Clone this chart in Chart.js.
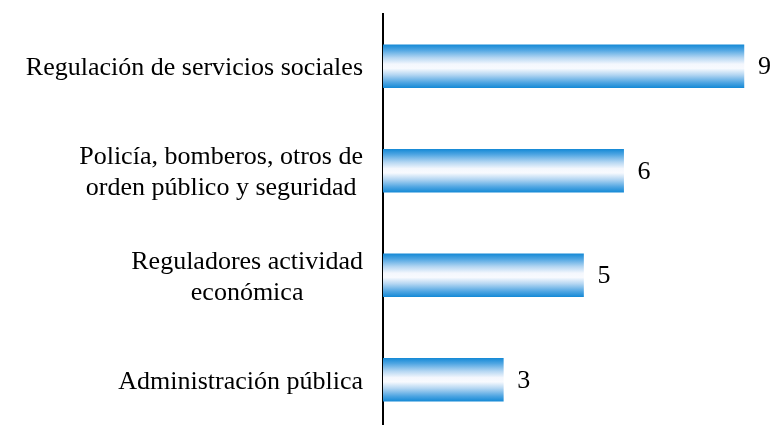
<!DOCTYPE html>
<html>
<head>
<meta charset="utf-8">
<script src="https://cdn.jsdelivr.net/npm/chart.js@4/dist/chart.umd.min.js"></script>
<style>
  html, body { margin: 0; padding: 0; background: #fff; overflow: hidden; }
  #wrap { width: 776px; height: 432px; position: relative; }
</style>
</head>
<body>
<div id="wrap"><canvas id="chart"></canvas></div>
<script>
const categories = [
  "Regulación de servicios sociales",
  ["Policía, bomberos, otros de", "orden público y seguridad"],
  ["Reguladores actividad", "económica"],
  "Administración pública"
];
const values = [9, 6, 5, 3];

const BAR_H = 43;
const FONT = "'Liberation Serif', 'Times New Roman', serif";
const FONT_SIZE = 26;
const LINE_H = 31;

// vertical blue-white-blue gradient for each bar, built from the y scale
function barGradient(context) {
  const chart = context.chart;
  const yScale = chart.scales.y;
  if (!yScale) return "#1a8cd8";
  const cy = yScale.getPixelForValue(context.dataIndex);
  if (!isFinite(cy)) return "#1a8cd8";
  const g = chart.ctx.createLinearGradient(0, cy - BAR_H / 2, 0, cy + BAR_H / 2);
  g.addColorStop(0, "#168ad6");
  g.addColorStop(0.12, "#4ea5e2");
  g.addColorStop(0.3, "#b4d6f2");
  g.addColorStop(0.45, "#f4f7fd");
  g.addColorStop(0.55, "#f8fafe");
  g.addColorStop(0.7, "#b4d6f2");
  g.addColorStop(0.88, "#4ea5e2");
  g.addColorStop(1, "#168ad6");
  return g;
}

// category labels: block right-aligned to the axis, lines centred in the block
const categoryLabels = {
  id: "categoryLabels",
  afterDraw(chart) {
    const ctx = chart.ctx;
    const yScale = chart.scales.y;
    const right = yScale.right - 20;
    ctx.save();
    ctx.font = FONT_SIZE + "px " + FONT;
    ctx.fillStyle = "#000";
    ctx.textAlign = "center";
    ctx.textBaseline = "middle";
    categories.forEach((label, i) => {
      const lines = Array.isArray(label) ? label : [label];
      const blockW = Math.max(...lines.map((l) => ctx.measureText(l).width));
      const cx = right - blockW / 2;
      const cy = yScale.getPixelForValue(i) + 2;
      const y0 = cy - ((lines.length - 1) * LINE_H) / 2;
      lines.forEach((l, j) => ctx.fillText(l, cx, y0 + j * LINE_H));
    });
    ctx.restore();
  }
};

const valueLabels = {
  id: "valueLabels",
  afterDatasetsDraw(chart) {
    const ctx = chart.ctx;
    const meta = chart.getDatasetMeta(0);
    ctx.save();
    ctx.font = FONT_SIZE + "px " + FONT;
    ctx.fillStyle = "#000";
    ctx.textAlign = "left";
    ctx.textBaseline = "middle";
    meta.data.forEach((bar, i) => {
      ctx.fillText(String(values[i]), bar.x + 14, bar.y + 1);
    });
    ctx.restore();
  }
};

new Chart(document.getElementById("chart"), {
  type: "bar",
  data: {
    labels: categories,
    datasets: [{
      data: values,
      backgroundColor: barGradient,
      borderWidth: 0,
      barThickness: BAR_H
    }]
  },
  options: {
    indexAxis: "y",
    responsive: true,
    maintainAspectRatio: false,
    animation: false,
    layout: { padding: { top: 14, right: 0, bottom: 0, left: 0 } },
    plugins: {
      legend: { display: false },
      tooltip: { enabled: false }
    },
    scales: {
      x: {
        display: false,
        min: 0,
        max: 9.8
      },
      y: {
        grid: { display: false, drawTicks: false },
        border: { display: true, color: "#000", width: 2 },
        afterFit: (scale) => {
          scale.width = 383;
          scale.paddingTop = 0;
          scale.paddingBottom = 0;
        },
        ticks: { display: false }
      }
    }
  },
  plugins: [valueLabels, categoryLabels]
});
</script>
</body>
</html>
